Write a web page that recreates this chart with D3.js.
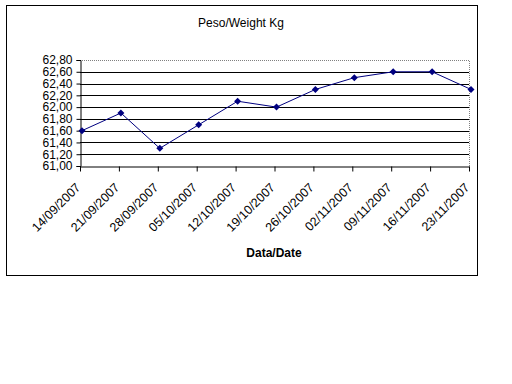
<!DOCTYPE html>
<html lang="en">
<head>
  <meta charset="UTF-8">
  <title>Peso/Weight Kg</title>
  <script src="https://d3js.org/d3.v7.min.js"></script>
  <style>
    body { margin: 0; background: white; }
    text { font-family: Arial, "Liberation Sans", sans-serif; }
  </style>
</head>
<body>
  <svg id="chart" width="512" height="384"></svg>
  <script>
    // data
    const dates = ["14/09/2007", "21/09/2007", "28/09/2007", "05/10/2007", "12/10/2007", "19/10/2007",
      "26/10/2007", "02/11/2007", "09/11/2007", "16/11/2007", "23/11/2007"];
    const weights = [61.6, 61.9, 61.3, 61.7, 62.1, 62.0, 62.3, 62.5, 62.6, 62.6, 62.3];
    const yTicks = [61.0, 61.2, 61.4, 61.6, 61.8, 62.0, 62.2, 62.4, 62.6, 62.8];

    const svg = d3.select("#chart");
    const plot = { left: 80, right: 469, top: 60, bottom: 166 };

    // outer frame
    svg.append("rect")
      .attr("x", 6.5).attr("y", 5.5)
      .attr("width", 471).attr("height", 270)
      .attr("fill", "white").attr("stroke", "black");

    const x = d3.scalePoint().domain(dates).range([plot.left, plot.right]);
    const y = d3.scaleLinear().domain([61.0, 62.8]).range([plot.bottom, plot.top]);

    // gridlines
    svg.append("g").selectAll("line")
      .data(yTicks.slice(1, -1))
      .join("line")
      .attr("x1", plot.left).attr("x2", plot.right)
      .attr("y1", d => Math.round(y(d)) + 0.5).attr("y2", d => Math.round(y(d)) + 0.5)
      .attr("stroke", "black");

    // plot area border (top & right dotted grey)
    svg.append("path")
      .attr("d", `M${plot.left},${plot.top + 0.5}H${plot.right + 0.5}V${plot.bottom}`)
      .attr("fill", "none").attr("stroke", "#808080").attr("stroke-dasharray", "1,1");

    // y axis
    const yAxis = svg.append("g")
      .attr("transform", `translate(${plot.left + 0.5},0)`)
      .call(d3.axisLeft(y).tickValues(yTicks).tickSize(4).tickPadding(4)
        .tickFormat(d => d3.format(".2f")(d).replace(".", ",")));
    yAxis.select(".domain").attr("stroke", "black");
    yAxis.selectAll("text").attr("font-size", 12).attr("fill", "black")
      .attr("font-family", "Arial, 'Liberation Sans', sans-serif");

    // x axis
    const xAxis = svg.append("g")
      .attr("transform", `translate(0,${plot.bottom + 0.5})`)
      .call(d3.axisBottom(x).tickSize(5).tickSizeOuter(0));
    xAxis.select(".domain").attr("stroke", "black");
    xAxis.selectAll("text")
      .attr("font-size", 12.5).attr("fill", "black")
      .attr("font-family", "Arial, 'Liberation Sans', sans-serif")
      .attr("text-anchor", "end")
      .attr("dy", "0.35em")
      .attr("transform", "translate(-8,13) rotate(-45)");

    // line
    svg.append("path")
      .datum(weights)
      .attr("fill", "none")
      .attr("stroke", "#000080")
      .attr("stroke-width", 1)
      .attr("d", d3.line().x((d, i) => x(dates[i]) + 2).y(d => y(d)));

    // markers (square diamonds)
    svg.append("g").selectAll("path")
      .data(weights)
      .join("path")
      .attr("d", "M0,-3.5L3.5,0L0,3.5L-3.5,0Z")
      .attr("transform", (d, i) => `translate(${x(dates[i]) + 2},${y(d)})`)
      .attr("fill", "#000080");

    // titles
    svg.append("text")
      .attr("x", 241).attr("y", 27)
      .attr("text-anchor", "middle")
      .attr("font-size", 12)
      .text("Peso/Weight Kg");

    svg.append("text")
      .attr("x", 274).attr("y", 257)
      .attr("text-anchor", "middle")
      .attr("font-size", 12).attr("font-weight", "bold")
      .text("Data/Date");
  </script>
</body>
</html>
